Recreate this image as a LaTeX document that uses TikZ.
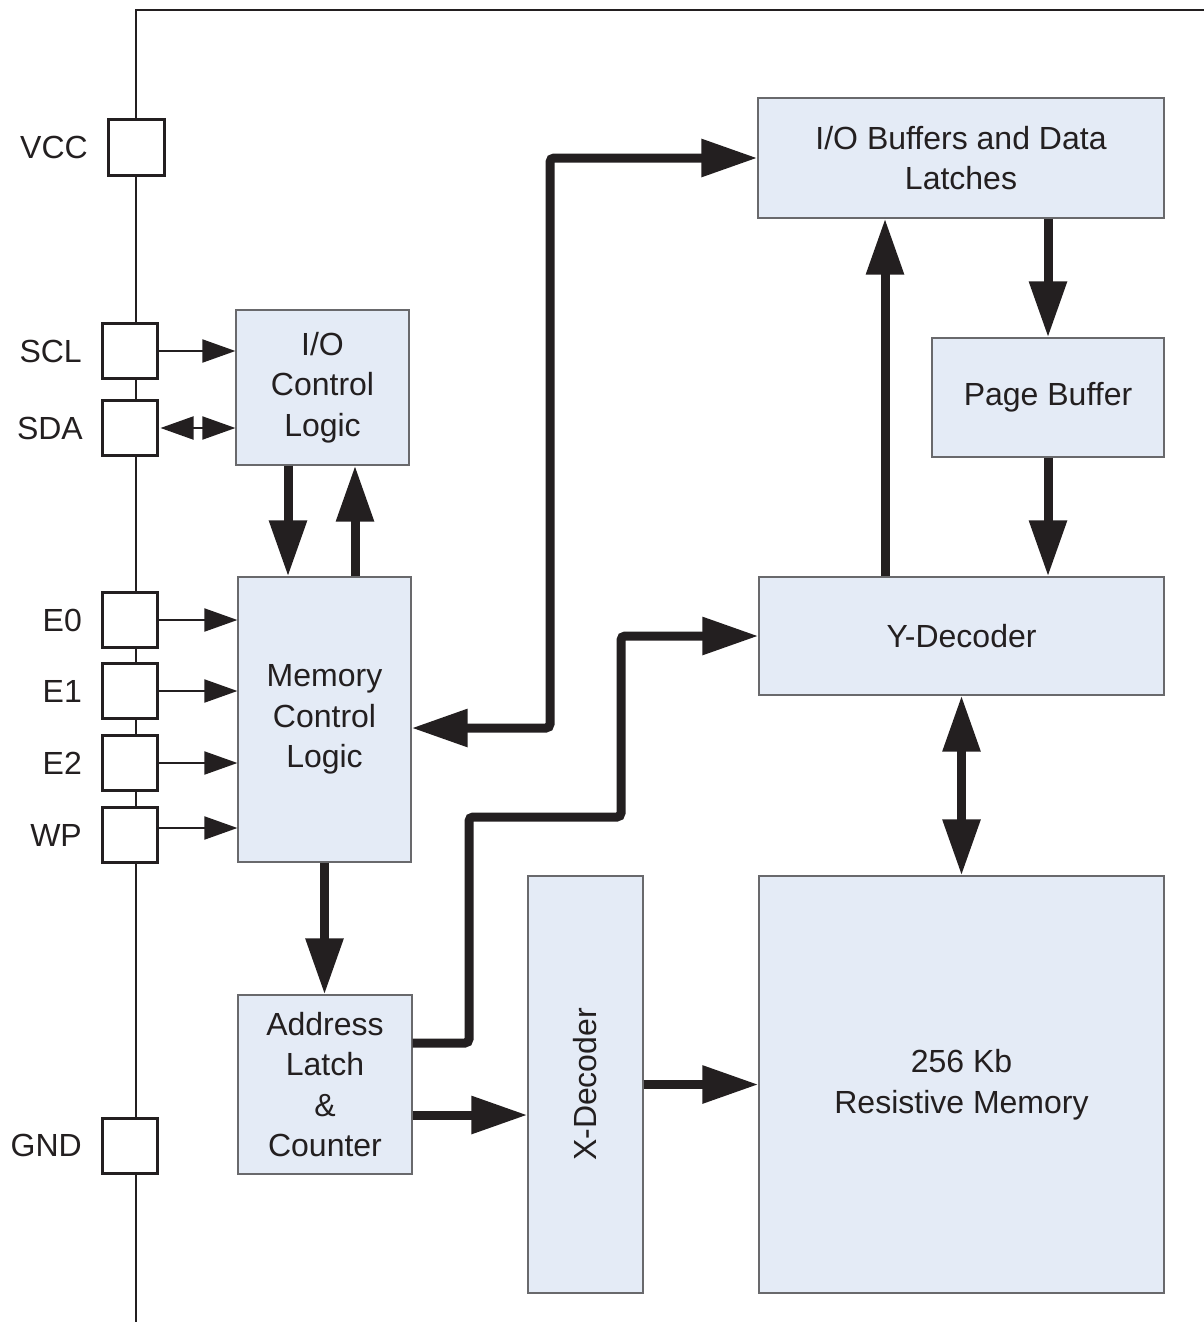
\documentclass[tikz,border=0pt]{standalone}
\usepackage{fontspec}
\setmainfont{Liberation Sans}
\usetikzlibrary{arrows.meta}
\definecolor{ink}{RGB}{35,31,32}
\definecolor{boxfill}{RGB}{228,235,246}
\definecolor{boxline}{RGB}{105,105,108}
\begin{document}
\begin{tikzpicture}[x=1pt,y=-1pt,
  txt/.style={font=\fontsize{32pt}{40.5pt}\selectfont, text=ink, align=center},
  block/.style={txt, draw=boxline, line width=1.2pt, fill=boxfill, inner sep=0pt},
  pinbox/.style={draw=ink, line width=3pt, fill=white, minimum size=55pt, inner sep=0pt},
  pinlabel/.style={txt, anchor=east, inner sep=0pt},
  thinarrow/.style={draw=ink, line width=2pt, -{Triangle[length=33pt,width=23pt]}},
  thindarrow/.style={draw=ink, line width=2pt, {Triangle[length=33pt,width=23pt]}-{Triangle[length=33pt,width=23pt]}},
  bigarrow/.style={draw=ink, line width=9pt, -{Triangle[length=56pt,width=36pt]}},
  bigdarrow/.style={draw=ink, line width=9pt, {Triangle[length=56pt,width=36pt]}-{Triangle[length=56pt,width=36pt]}},
  bus/.style={bigdarrow, rounded corners=4pt},
  busone/.style={bigarrow, rounded corners=4pt}
]
\useasboundingbox (0,0) rectangle (1204,1322);

% outline rail
\coordinate (railbot) at (136,1322);
\coordinate (railtop) at (136,10);
\coordinate (railend) at (1204,10);
\draw[ink, line width=2.2pt] (railbot) -- (railtop) -- (railend);

% pins
\node[pinbox, minimum size=56pt] (vcc) at (136.5,147.5) {};
\node[pinbox] (scl) at (130,351) {};
\node[pinbox] (sda) at (130,428) {};
\node[pinbox] (e0) at (130,620) {};
\node[pinbox] (e1) at (130,691) {};
\node[pinbox] (e2) at (130,763) {};
\node[pinbox] (wp) at (130,835) {};
\node[pinbox] (gnd) at (130,1145.5) {};

\node[pinlabel] (lvcc) at ([xshift=-19pt]vcc.west) {VCC};
\node[pinlabel] (lscl) at ([xshift=-19pt]scl.west) {SCL};
\node[pinlabel] (lsda) at ([xshift=-18pt]sda.west) {SDA};
\node[pinlabel] (le0) at ([xshift=-19pt]e0.west) {E0};
\node[pinlabel] (le1) at ([xshift=-19pt]e1.west) {E1};
\node[pinlabel] (le2) at ([xshift=-19pt]e2.west) {E2};
\node[pinlabel] (lwp) at ([xshift=-19pt]wp.west) {WP};
\node[pinlabel] (lgnd) at ([xshift=-19pt]gnd.west) {GND};

% blocks
\node[block, minimum width=173pt, minimum height=155pt] (ioc) at (322.5,387.5) {I/O\\Control\\Logic};
\node[block, minimum width=173pt, minimum height=285pt] (mcl) at (324.5,719.5) {Memory\\Control\\Logic};
\node[block, minimum width=174pt, minimum height=179pt] (alc) at (325,1084.5) {Address\\Latch\\\&\\Counter};
\node[block, minimum width=115pt, minimum height=417pt] (xdec) at (585.5,1084.5) {\rotatebox{90}{X-Decoder}};
\node[block, minimum width=405pt, minimum height=417pt] (mem) at (961.5,1084.5) {256 Kb\\Resistive Memory};
\node[block, minimum width=405pt, minimum height=118pt] (ydec) at (961.5,636) {Y-Decoder};
\node[block, minimum width=232pt, minimum height=119pt] (pbuf) at (1048,397.5) {\raisebox{8pt}{Page Buffer}};
\node[block, minimum width=406pt, minimum height=120pt] (iob) at (961,158) {I/O Buffers and Data\\Latches};

% helper coordinates
\coordinate (xdn) at (288,0);
\coordinate (xup) at (355,0);
\coordinate (xyup) at (885,0);
\coordinate (ywp) at (0,828);
\coordinate (yax) at (0,1115);
\coordinate (b1) at (550,728);
\coordinate (b2) at (550,158);
\coordinate (c1) at (469,1043);
\coordinate (c2) at (469,817);
\coordinate (c3) at (621,817);
\coordinate (c4) at (621,636);

% thin pin arrows
\draw[thinarrow] (scl.east) -- (scl.east -| ioc.west);
\draw[thindarrow] ([xshift=1.5pt]sda.east) -- (sda.east -| ioc.west);
\draw[thinarrow] (e0.east) -- (e0.east -| mcl.west);
\draw[thinarrow] (e1.east) -- (e1.east -| mcl.west);
\draw[thinarrow] (e2.east) -- (e2.east -| mcl.west);
\draw[thinarrow] (wp.east |- ywp) -- (mcl.west |- ywp);

% thick arrows
\draw[bigarrow] (ioc.south -| xdn) -- (mcl.north -| xdn);
\draw[bigarrow] (mcl.north -| xup) -- (ioc.south -| xup);
\draw[bigarrow] (mcl.south) -- (mcl.south |- alc.north);
\draw[bigarrow] (alc.east |- yax) -- (xdec.west |- yax);
\draw[bigarrow] (xdec.east) -- (mem.west);
\draw[bigarrow] (ydec.north -| xyup) -- (iob.south -| xyup);
\draw[bigarrow] (iob.south -| pbuf.north) -- (pbuf.north);
\draw[bigarrow] (pbuf.south) -- (pbuf.south |- ydec.north);
\draw[bigdarrow] (ydec.south) -- (ydec.south |- mem.north);
\draw[bus] (mcl.east |- b1) -- (b1) -- (b2) -- (iob.west |- b2);
\draw[busone] (alc.east |- c1) -- (c1) -- (c2) -- (c3) -- (c4) -- (ydec.west |- c4);
\end{tikzpicture}
\end{document}
